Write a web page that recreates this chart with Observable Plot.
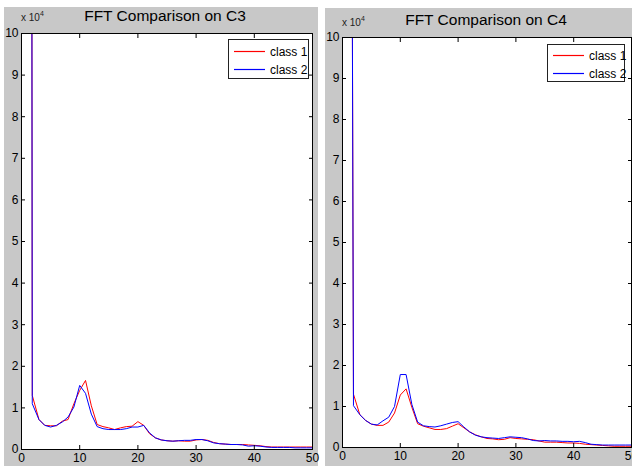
<!DOCTYPE html>
<html>
<head>
<meta charset="utf-8">
<script src="https://cdn.jsdelivr.net/npm/d3@7"></script>
<script src="https://cdn.jsdelivr.net/npm/@observablehq/plot@0.6"></script>
<style>
  html, body { margin: 0; padding: 0; background: #ffffff; }
  #root { position: relative; width: 632px; height: 466px; overflow: hidden; background: #ffffff; font-family: "Liberation Sans", Arial, sans-serif; }
  .panel { position: absolute; background: #c8c8c8; overflow: visible; }
  .panel > svg { position: absolute; left: 0; top: 0; overflow: visible; }
  .title { position: absolute; font-size: 15.5px; color: #000; white-space: nowrap; transform: translateX(-50%); }
  .expo { position: absolute; font-size: 10px; color: #222; white-space: nowrap; }
  .expo sup { font-size: 7px; vertical-align: 5px; }
  .legend { position: absolute; background: #fff; border: 1px solid #222; box-sizing: border-box; }
  .legend svg { position: absolute; left: 0; top: 0; overflow: visible; }
</style>
</head>
<body>
<div id="root"></div>
<script>
// ---------- data (values in units of 1e4) ----------
const xTicks = [0, 10, 20, 30, 40, 50];
const yTicks = [0, 1, 2, 3, 4, 5, 6, 7, 8, 9, 10];
const seriesNames = ["class 1", "class 2"];
const seriesColors = ["#ff0000", "#0000ff"];

const freqC3 = [1.6, 1.85, 3, 4, 5, 6, 7, 8, 9, 10, 11, 12, 13, 14, 15, 16, 17, 18, 19, 20,
  21, 22, 23, 24, 25, 26, 27, 28, 29, 30, 31, 32, 33, 34, 35, 36, 37, 38, 39, 40,
  41, 42, 43, 44, 45, 46, 47, 48, 49, 50];
const c3Class1 = [40, 1.30, 0.72, 0.58, 0.57, 0.57, 0.68, 0.72, 1.10, 1.42, 1.66, 1.05, 0.60, 0.55, 0.52, 0.48, 0.52, 0.55, 0.56, 0.67,
  0.58, 0.38, 0.28, 0.23, 0.21, 0.20, 0.21, 0.20, 0.20, 0.23, 0.24, 0.22, 0.17, 0.14, 0.13, 0.12, 0.12, 0.12, 0.11, 0.10,
  0.09, 0.07, 0.06, 0.06, 0.06, 0.06, 0.06, 0.06, 0.06, 0.06];
const c3Class2 = [40, 1.10, 0.72, 0.58, 0.54, 0.58, 0.66, 0.78, 1.02, 1.54, 1.35, 0.85, 0.55, 0.50, 0.48, 0.48, 0.48, 0.50, 0.54, 0.54,
  0.58, 0.40, 0.28, 0.23, 0.21, 0.20, 0.21, 0.22, 0.22, 0.24, 0.24, 0.21, 0.16, 0.14, 0.13, 0.12, 0.12, 0.11, 0.08, 0.09,
  0.08, 0.06, 0.05, 0.05, 0.05, 0.05, 0.04, 0.04, 0.04, 0.04];

const freqC4 = [1.3, 1.9, 3, 4, 5, 6, 7, 8, 9, 10, 11, 12, 13, 14, 15, 16, 17, 18, 19, 20,
  21, 22, 23, 24, 25, 26, 27, 28, 29, 30, 31, 32, 33, 34, 35, 36, 37, 38, 39, 40,
  41, 42, 43, 44, 45, 46, 47, 48, 49, 50];
const c4Class1 = [30, 1.30, 0.80, 0.66, 0.57, 0.54, 0.54, 0.62, 0.84, 1.28, 1.43, 0.98, 0.58, 0.52, 0.48, 0.44, 0.44, 0.46, 0.52, 0.58,
  0.48, 0.38, 0.31, 0.26, 0.22, 0.21, 0.19, 0.20, 0.24, 0.22, 0.21, 0.20, 0.19, 0.16, 0.13, 0.13, 0.13, 0.12, 0.11, 0.11,
  0.10, 0.08, 0.07, 0.06, 0.05, 0.04, 0.03, 0.03, 0.03, 0.03];
const c4Class2 = [30, 1.02, 0.80, 0.66, 0.57, 0.55, 0.65, 0.74, 1.00, 1.78, 1.78, 1.05, 0.62, 0.53, 0.51, 0.50, 0.53, 0.57, 0.61, 0.63,
  0.50, 0.38, 0.30, 0.26, 0.24, 0.23, 0.22, 0.24, 0.26, 0.25, 0.24, 0.21, 0.17, 0.16, 0.17, 0.16, 0.16, 0.15, 0.15, 0.14,
  0.15, 0.12, 0.08, 0.07, 0.06, 0.06, 0.06, 0.06, 0.06, 0.06];

// ---------- drawing ----------
const root = document.getElementById("root");
const NS = "http://www.w3.org/2000/svg";

function panel(cfg) {
  const div = document.createElement("div");
  div.className = "panel";
  Object.assign(div.style, {left: cfg.left + "px", top: cfg.top + "px", width: cfg.width + "px", height: cfg.height + "px"});
  root.appendChild(div);

  const rows = (freq, vals, name) => freq.map((f, i) => ({f, v: vals[i], name}));
  const data = [...rows(cfg.freq, cfg.s1, seriesNames[0]), ...rows(cfg.freq, cfg.s2, seriesNames[1])];

  const axStyle = {fontFamily: "Liberation Sans, Arial, sans-serif", fontSize: 12, fill: "#000"};
  const svg = Plot.plot({
    width: cfg.width, height: cfg.height,
    marginLeft: cfg.ml, marginRight: cfg.mr, marginTop: cfg.mt, marginBottom: cfg.mb,
    style: {background: "transparent", fontFamily: "Liberation Sans, Arial, sans-serif", fontSize: "12px", color: "#000", overflow: "visible"},
    x: {domain: [0, 50], ticks: xTicks},
    y: {domain: [0, 10], ticks: yTicks},
    color: {domain: seriesNames, range: seriesColors},
    marks: [
      Plot.frame({fill: "white", stroke: null}),
      Plot.lineY(data, {x: "f", y: "v", stroke: "name", z: "name", strokeWidth: 1, clip: true}),
      Plot.axisX({anchor: "bottom", ticks: xTicks, tickSize: -4, text: null, label: null, stroke: "#000"}),
      Plot.axisX({anchor: "top", ticks: xTicks, tickSize: -4, text: null, label: null, stroke: "#000"}),
      Plot.axisY({anchor: "left", ticks: yTicks, tickSize: -4, text: null, label: null, stroke: "#000"}),
      Plot.axisY({anchor: "right", ticks: yTicks, tickSize: -4, text: null, label: null, stroke: "#000"}),
      Plot.axisX({anchor: "bottom", ticks: xTicks, tickSize: 0, tickPadding: 4, label: null, tickFormat: d => String(d), ...axStyle}),
      Plot.axisY({anchor: "left", ticks: yTicks, tickSize: 0, tickPadding: 3, label: null, tickFormat: d => String(d), ...axStyle}),
      Plot.frame({stroke: "#000", strokeWidth: 1})
    ]
  });
  div.appendChild(svg);

  const t = document.createElement("div");
  t.className = "title";
  t.textContent = cfg.title;
  Object.assign(t.style, {left: cfg.titleX + "px", top: cfg.titleY + "px"});
  div.appendChild(t);

  const e = document.createElement("div");
  e.className = "expo";
  e.innerHTML = "x 10<sup>4</sup>";
  Object.assign(e.style, {left: cfg.expoX + "px", top: cfg.expoY + "px"});
  div.appendChild(e);

  const lg = document.createElement("div");
  lg.className = "legend";
  Object.assign(lg.style, {left: cfg.lgX + "px", top: cfg.lgY + "px", width: cfg.lgW + "px", height: cfg.lgH + "px"});
  const ls = document.createElementNS(NS, "svg");
  ls.setAttribute("width", cfg.lgW - 2);
  ls.setAttribute("height", cfg.lgH - 2);
  seriesNames.forEach((n, i) => {
    const cy = cfg.lgRow0 + i * 18 + 0.5;
    const ln = document.createElementNS(NS, "line");
    ln.setAttribute("x1", 5); ln.setAttribute("x2", 36);
    ln.setAttribute("y1", cy); ln.setAttribute("y2", cy);
    ln.setAttribute("stroke", seriesColors[i]);
    ln.setAttribute("stroke-width", 1.2);
    ls.appendChild(ln);
    const tx = document.createElementNS(NS, "text");
    tx.setAttribute("x", 41); tx.setAttribute("y", cy);
    tx.setAttribute("dy", "0.35em");
    tx.setAttribute("font-size", 12);
    tx.setAttribute("font-family", "Liberation Sans, Arial, sans-serif");
    tx.setAttribute("fill", "#000");
    tx.textContent = n;
    ls.appendChild(tx);
  });
  lg.appendChild(ls);
  div.appendChild(lg);
}

panel({
  left: 4, top: 7, width: 314, height: 459,
  ml: 17, mr: 6, mt: 26, mb: 17,
  freq: freqC3, s1: c3Class1, s2: c3Class2,
  title: "FFT Comparison on C3", titleX: 161, titleY: 0,
  expoX: 17, expoY: 3,
  lgX: 224, lgY: 32, lgW: 81, lgH: 40, lgRow0: 11
});
panel({
  left: 325, top: 8, width: 307, height: 458,
  ml: 17, mr: 1, mt: 29, mb: 19,
  freq: freqC4, s1: c4Class1, s2: c4Class2,
  title: "FFT Comparison on C4", titleX: 161, titleY: 3,
  expoX: 17, expoY: 7,
  lgX: 222, lgY: 36, lgW: 78, lgH: 38, lgRow0: 10
});
</script>
</body>
</html>
